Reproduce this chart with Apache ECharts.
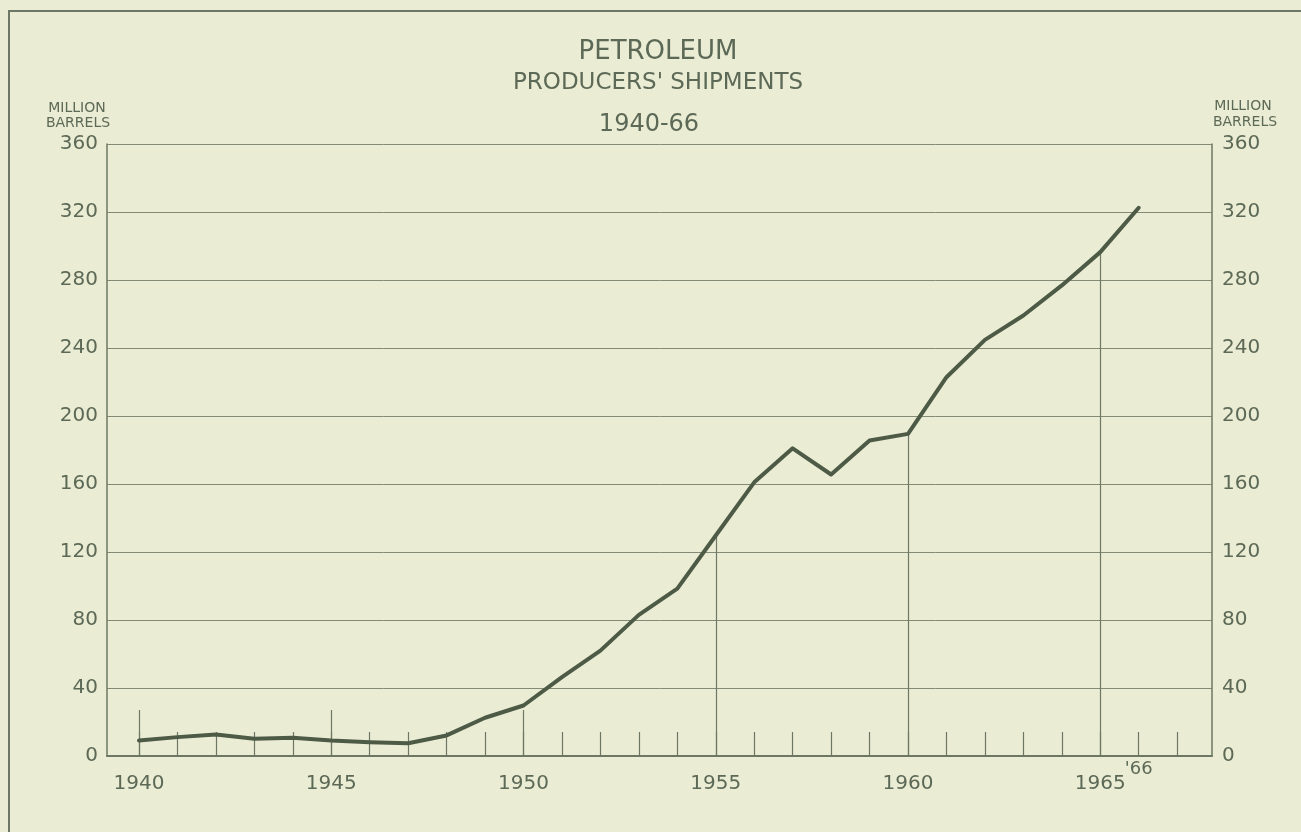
<!DOCTYPE html>
<html>
<head>
<meta charset="utf-8">
<script src="https://cdn.jsdelivr.net/npm/echarts@6/dist/echarts.min.js"></script>
<style>
html,body{margin:0;padding:0;background:#ebecd4;}
#chart{width:1301px;height:832px;}
</style>
</head>
<body>
<div id="chart"></div>
<script>
const years = [1940,1941,1942,1943,1944,1945,1946,1947,1948,1949,1950,1951,1952,1953,1954,1955,1956,1957,1958,1959,1960,1961,1962,1963,1964,1965,1966];
const shipments = [9.1,11.1,12.6,10.1,10.7,9.1,8.1,7.5,12.1,22.5,29.7,46.4,62.0,83.0,98.5,129.7,161.0,181.0,165.6,185.6,189.5,222.8,244.8,259.1,276.8,296.4,322.5];
const yearTicks = [1940,1941,1942,1943,1944,1945,1946,1947,1948,1949,1950,1951,1952,1953,1954,1955,1956,1957,1958,1959,1960,1961,1962,1963,1964,1965,1966,1967];
const labelYears = [1940,1945,1950,1955,1960,1965];
const tallTickYears = [1940,1945,1950];
const dropLineYears = [1955,1960,1965];
const endLabelYear = [1966];
const titleLines = ['PETROLEUM', "PRODUCERS' SHIPMENTS", '1940-66'];
const unitLines = ['MILLION', 'BARRELS'];

const textColor = '#5c6956';
const lineColor = '#4d5a46';
const axisColor = '#6c7865';
const gridColor = '#838b77';
const font = 'DejaVu Sans';

const seriesData = years.map((y, i) => [y, shipments[i]]);
const dropLines = dropLineYears.map(y => {
  const v = shipments[years.indexOf(y)];
  return [{coord: [y, 0]}, {coord: [y, v]}];
});

const xMin = 1939.168, xMax = 1967.906;
const baseX = {
  type: 'value', min: xMin, max: xMax, position: 'bottom',
  splitLine: {show: false}
};

const chart = echarts.init(document.getElementById('chart'));
chart.setOption({
  backgroundColor: '#ebecd4',
  animation: false,
  grid: {left: 107, right: 89, top: 144, bottom: 76, containLabel: false},
  xAxis: [
    Object.assign({}, baseX, {
      axisLine: {show: true, lineStyle: {color: axisColor, width: 2}},
      axisTick: {show: true, inside: true, length: 24, customValues: yearTicks, lineStyle: {color: axisColor, width: 1.2}},
      axisLabel: {show: true, customValues: labelYears, margin: 18, color: textColor, fontFamily: font, fontSize: 20, formatter: v => String(v)}
    }),
    Object.assign({}, baseX, {
      axisLine: {show: false},
      axisTick: {show: true, inside: true, length: 46, customValues: tallTickYears, lineStyle: {color: axisColor, width: 1.2}},
      axisLabel: {show: false}
    }),
    Object.assign({}, baseX, {
      axisLine: {show: false},
      axisTick: {show: false},
      axisLabel: {show: true, customValues: endLabelYear, margin: 4, color: textColor, fontFamily: font, fontSize: 18, formatter: v => "'" + String(v).slice(2)}
    })
  ],
  yAxis: [
    {
      type: 'value', min: 0, max: 360, interval: 40, position: 'left',
      axisLine: {show: true, lineStyle: {color: axisColor, width: 1.5}},
      axisTick: {show: false},
      splitLine: {show: true, lineStyle: {color: gridColor, width: 1}},
      axisLabel: {margin: 9, color: textColor, fontFamily: font, fontSize: 20}
    },
    {
      type: 'value', min: 0, max: 360, interval: 40, position: 'right',
      axisLine: {show: true, lineStyle: {color: axisColor, width: 1.5}},
      axisTick: {show: false},
      splitLine: {show: false},
      axisLabel: {margin: 10, color: textColor, fontFamily: font, fontSize: 20}
    }
  ],
  graphic: [
    {type: 'rect', silent: true, shape: {x: 9, y: 11, width: 1400, height: 900}, style: {fill: 'none', stroke: axisColor, lineWidth: 2}},
    {type: 'text', x: 658, y: 52, style: {text: titleLines[0], font: '26px "DejaVu Sans"', fill: textColor, align: 'center', verticalAlign: 'middle'}},
    {type: 'text', x: 658, y: 83, style: {text: titleLines[1], font: '23px "DejaVu Sans"', fill: textColor, align: 'center', verticalAlign: 'middle'}},
    {type: 'text', x: 649, y: 125, style: {text: titleLines[2], font: '24px "DejaVu Sans"', fill: textColor, align: 'center', verticalAlign: 'middle'}},
    {type: 'text', x: 77, y: 108, style: {text: unitLines[0], font: '14px "DejaVu Sans"', fill: textColor, align: 'center', verticalAlign: 'middle'}},
    {type: 'text', x: 78, y: 123, style: {text: unitLines[1], font: '14px "DejaVu Sans"', fill: textColor, align: 'center', verticalAlign: 'middle'}},
    {type: 'text', x: 1243, y: 106, style: {text: unitLines[0], font: '14px "DejaVu Sans"', fill: textColor, align: 'center', verticalAlign: 'middle'}},
    {type: 'text', x: 1245, y: 122, style: {text: unitLines[1], font: '14px "DejaVu Sans"', fill: textColor, align: 'center', verticalAlign: 'middle'}}
  ],
  series: [
    {
      type: 'line', xAxisIndex: 0, yAxisIndex: 0, data: seriesData,
      showSymbol: false, symbol: 'none',
      lineStyle: {color: lineColor, width: 4, join: 'round', cap: 'round'},
      markLine: {
        silent: true, symbol: ['none', 'none'], label: {show: false},
        lineStyle: {color: axisColor, width: 1.2, type: 'solid'},
        data: dropLines
      },
      z: 5
    }
  ]
});
</script>
</body>
</html>
